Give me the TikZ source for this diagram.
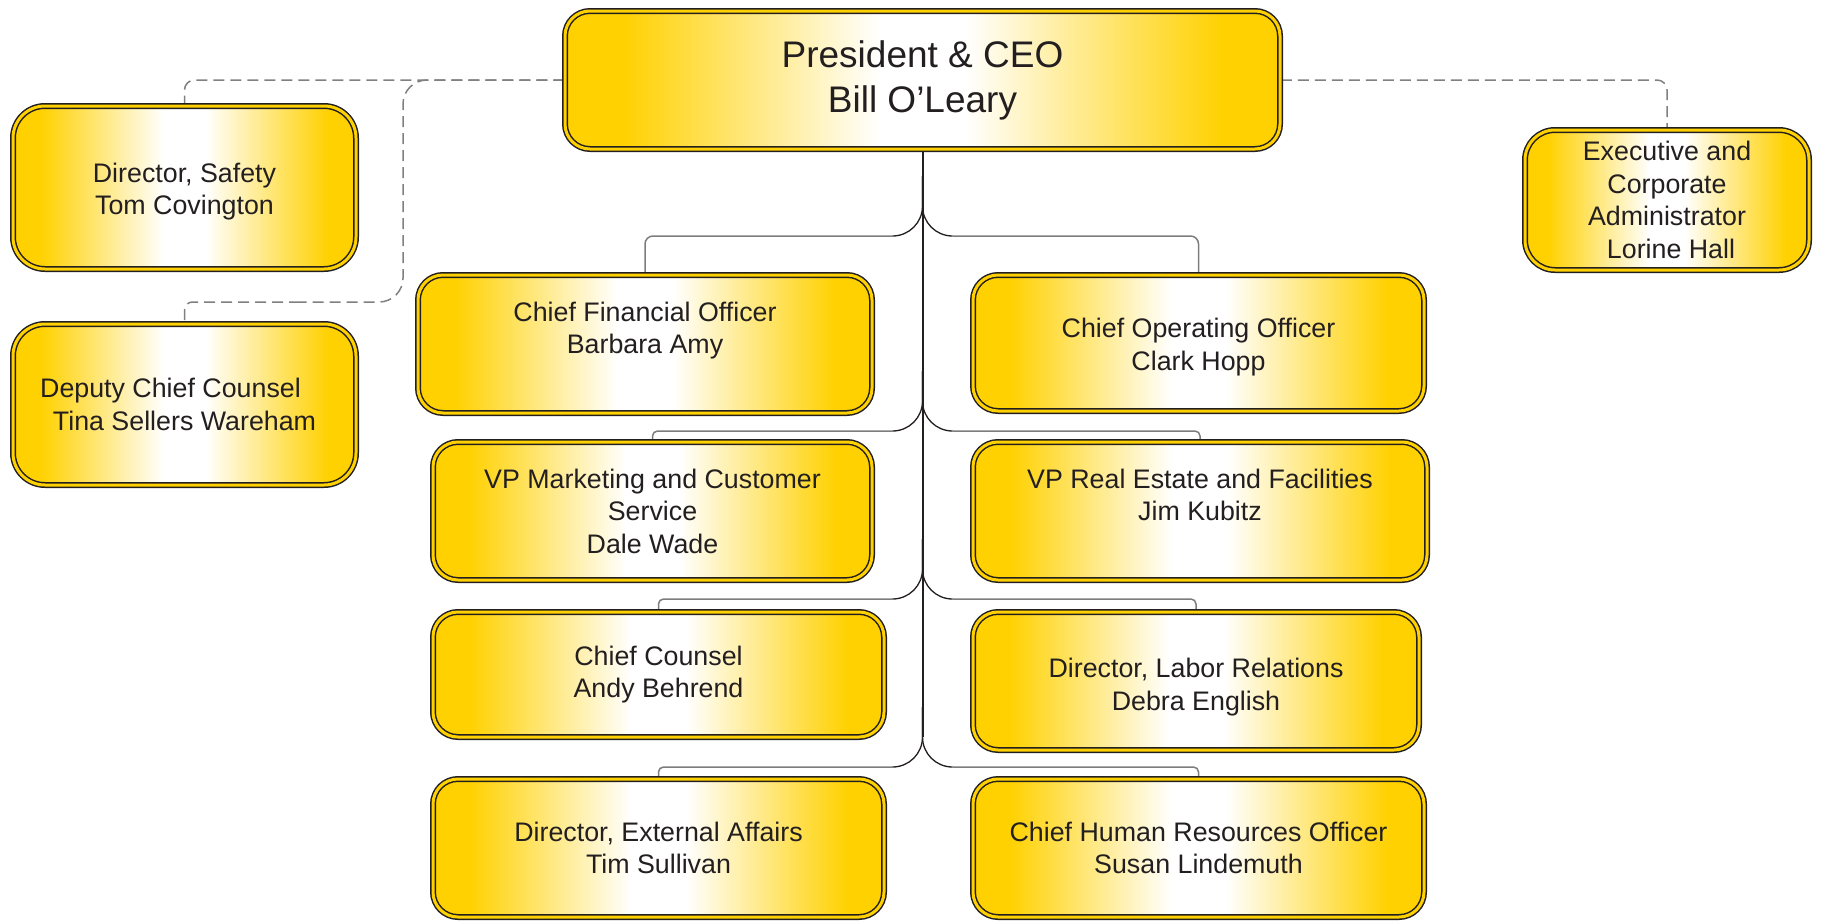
\documentclass[tikz,border=0pt]{standalone}
\usepackage{fontspec}
\setmainfont{Liberation Sans}
\usetikzlibrary{calc}
\definecolor{gold}{RGB}{255,209,0}
\definecolor{ink}{RGB}{35,31,32}
\definecolor{dashgray}{RGB}{128,128,128}
\definecolor{stubgray}{RGB}{125,125,125}
\pgfdeclarehorizontalshading{goldgrad}{100bp}{color(0bp)=(gold); color(29bp)=(gold); color(47bp)=(white); color(53bp)=(white); color(71bp)=(gold); color(100bp)=(gold)}
\pgfdeclarelayer{bg}
\pgfsetlayers{bg,main}
\begin{document}
\begin{tikzpicture}[x=1pt,y=-1pt,
  box/.style={rectangle, rounded corners=#1, shading=goldgrad, draw=ink, line width=1.5pt,
    double=gold, double distance=3pt, align=center, text=ink, inner sep=0pt,
    font=\fontsize{26.8}{32.5}\selectfont},
  box/.default=25pt,
  boxtext/.style={align=center, text=ink, inner sep=0pt, font=\fontsize{26.8}{32.5}\selectfont},
  dashline/.style={draw=dashgray, line width=1.5pt, dash pattern=on 11pt off 6pt},
  stubline/.style={draw=stubgray, line width=1.5pt},
  curveline/.style={draw=ink, line width=1.3pt},
  trunkline/.style={draw=ink, line width=2pt}]
\useasboundingbox (0,0) rectangle (1822,921);

% boxes
\node[box=25pt, minimum width=715pt, minimum height=138pt, font=\fontsize{37}{45}\selectfont] (ceo) at (922.5,80) {President \& CEO\\Bill O’Leary};
\node[box=32pt, minimum width=343pt, minimum height=163pt,
  label={[boxtext, yshift=-4pt]center:{Director, Safety\\Tom Covington}}] (safety) at (184.5,187.5) {};
\node[box=32pt, minimum width=343pt, minimum height=161pt] (deputy) at (184.5,404.5) {Deputy Chief Counsel\hspace*{28pt}\\Tina Sellers Wareham};
\node[box=30pt, minimum width=284pt, minimum height=140pt] (exec) at (1667,200) {Executive and\\Corporate\\Administrator\\\hspace*{8pt}Lorine Hall};
\node[box, minimum width=454pt, minimum height=138pt] (cfo) at (645,344) {Chief Financial Officer\\Barbara Amy\\\mbox{}};
\node[box, minimum width=451pt, minimum height=136pt,
  label={[boxtext, yshift=-4pt]center:{Chief Operating Officer\\Clark Hopp}}] (coo) at (1198.5,343) {};
\node[box, minimum width=439pt, minimum height=138pt] (vpm) at (652.5,511) {VP Marketing and Customer\\Service\\Dale Wade};
\node[box, minimum width=454pt, minimum height=138pt] (vpre) at (1200,511) {VP Real Estate and Facilities\\Jim Kubitz\\\mbox{}};
\node[box, minimum width=451pt, minimum height=125pt] (cc) at (658.5,674.5) {Chief Counsel\\Andy Behrend};
\node[box, minimum width=446pt, minimum height=138pt,
  label={[boxtext, yshift=-6pt]center:{Director, Labor Relations\\Debra English}}] (lab) at (1196,681) {};
\node[box, minimum width=451pt, minimum height=138pt] (ext) at (658.5,848) {Director, External Affairs\\Tim Sullivan};
\node[box, minimum width=451pt, minimum height=138pt] (hr) at (1198.5,848) {Chief Human Resources Officer\\Susan Lindemuth};

\begin{pgfonlayer}{bg}
% dashed links
\draw[dashline, rounded corners=10pt] (ceo.west) -- (ceo.west -| safety.north) -- (safety.north);
\coordinate (dk1) at (403,80);
\coordinate (dk2) at (403,302);
\coordinate (dk3) at (300,302);
\draw[dashline, rounded corners=24pt] (ceo.west) -- (dk1) -- (dk2) -- (dk3);
\draw[dashline, rounded corners=8pt] (dk3) -- (deputy.north |- dk3) -- (deputy.north);
\draw[dashline, rounded corners=10pt] (ceo.east) -- (ceo.east -| exec.north) -- (exec.north);

% branch levels on trunk
\coordinate (t1) at (ceo.south |- {(0,236)});
\coordinate (t2) at (ceo.south |- {(0,431)});
\coordinate (t3) at (ceo.south |- {(0,599)});
\coordinate (t4) at (ceo.south |- {(0,767)});

% level 1
\draw[stubline, rounded corners=8pt] (cfo.north) -- (cfo.north |- t1) -- ($(t1)+(-30,0)$);
\draw[curveline, rounded corners=30pt] ($(t1)+(-30,0)$) -- (t1) -- ($(t1)+(0,-60)$);
\draw[stubline, rounded corners=8pt] (coo.north) -- (coo.north |- t1) -- ($(t1)+(30,0)$);
\draw[curveline, rounded corners=30pt] ($(t1)+(30,0)$) -- (t1) -- ($(t1)+(0,-60)$);
% level 2
\draw[stubline, rounded corners=5pt] (vpm.north) -- (vpm.north |- t2) -- ($(t2)+(-30,0)$);
\draw[curveline, rounded corners=30pt] ($(t2)+(-30,0)$) -- (t2) -- ($(t2)+(0,-60)$);
\draw[stubline, rounded corners=5pt] (vpre.north) -- (vpre.north |- t2) -- ($(t2)+(30,0)$);
\draw[curveline, rounded corners=30pt] ($(t2)+(30,0)$) -- (t2) -- ($(t2)+(0,-60)$);
% level 3
\draw[stubline, rounded corners=5pt] (cc.north) -- (cc.north |- t3) -- ($(t3)+(-30,0)$);
\draw[curveline, rounded corners=30pt] ($(t3)+(-30,0)$) -- (t3) -- ($(t3)+(0,-60)$);
\draw[stubline, rounded corners=5pt] (lab.north) -- (lab.north |- t3) -- ($(t3)+(30,0)$);
\draw[curveline, rounded corners=30pt] ($(t3)+(30,0)$) -- (t3) -- ($(t3)+(0,-60)$);
% level 4
\draw[stubline, rounded corners=5pt] (ext.north) -- (ext.north |- t4) -- ($(t4)+(-30,0)$);
\draw[curveline, rounded corners=30pt] ($(t4)+(-30,0)$) -- (t4) -- ($(t4)+(0,-60)$);
\draw[stubline, rounded corners=5pt] (hr.north) -- (hr.north |- t4) -- ($(t4)+(30,0)$);
\draw[curveline, rounded corners=30pt] ($(t4)+(30,0)$) -- (t4) -- ($(t4)+(0,-60)$);

% trunk
\draw[trunkline] (ceo.south) -- ($(t4)+(0,-30)$);
\end{pgfonlayer}
\end{tikzpicture}
\end{document}
